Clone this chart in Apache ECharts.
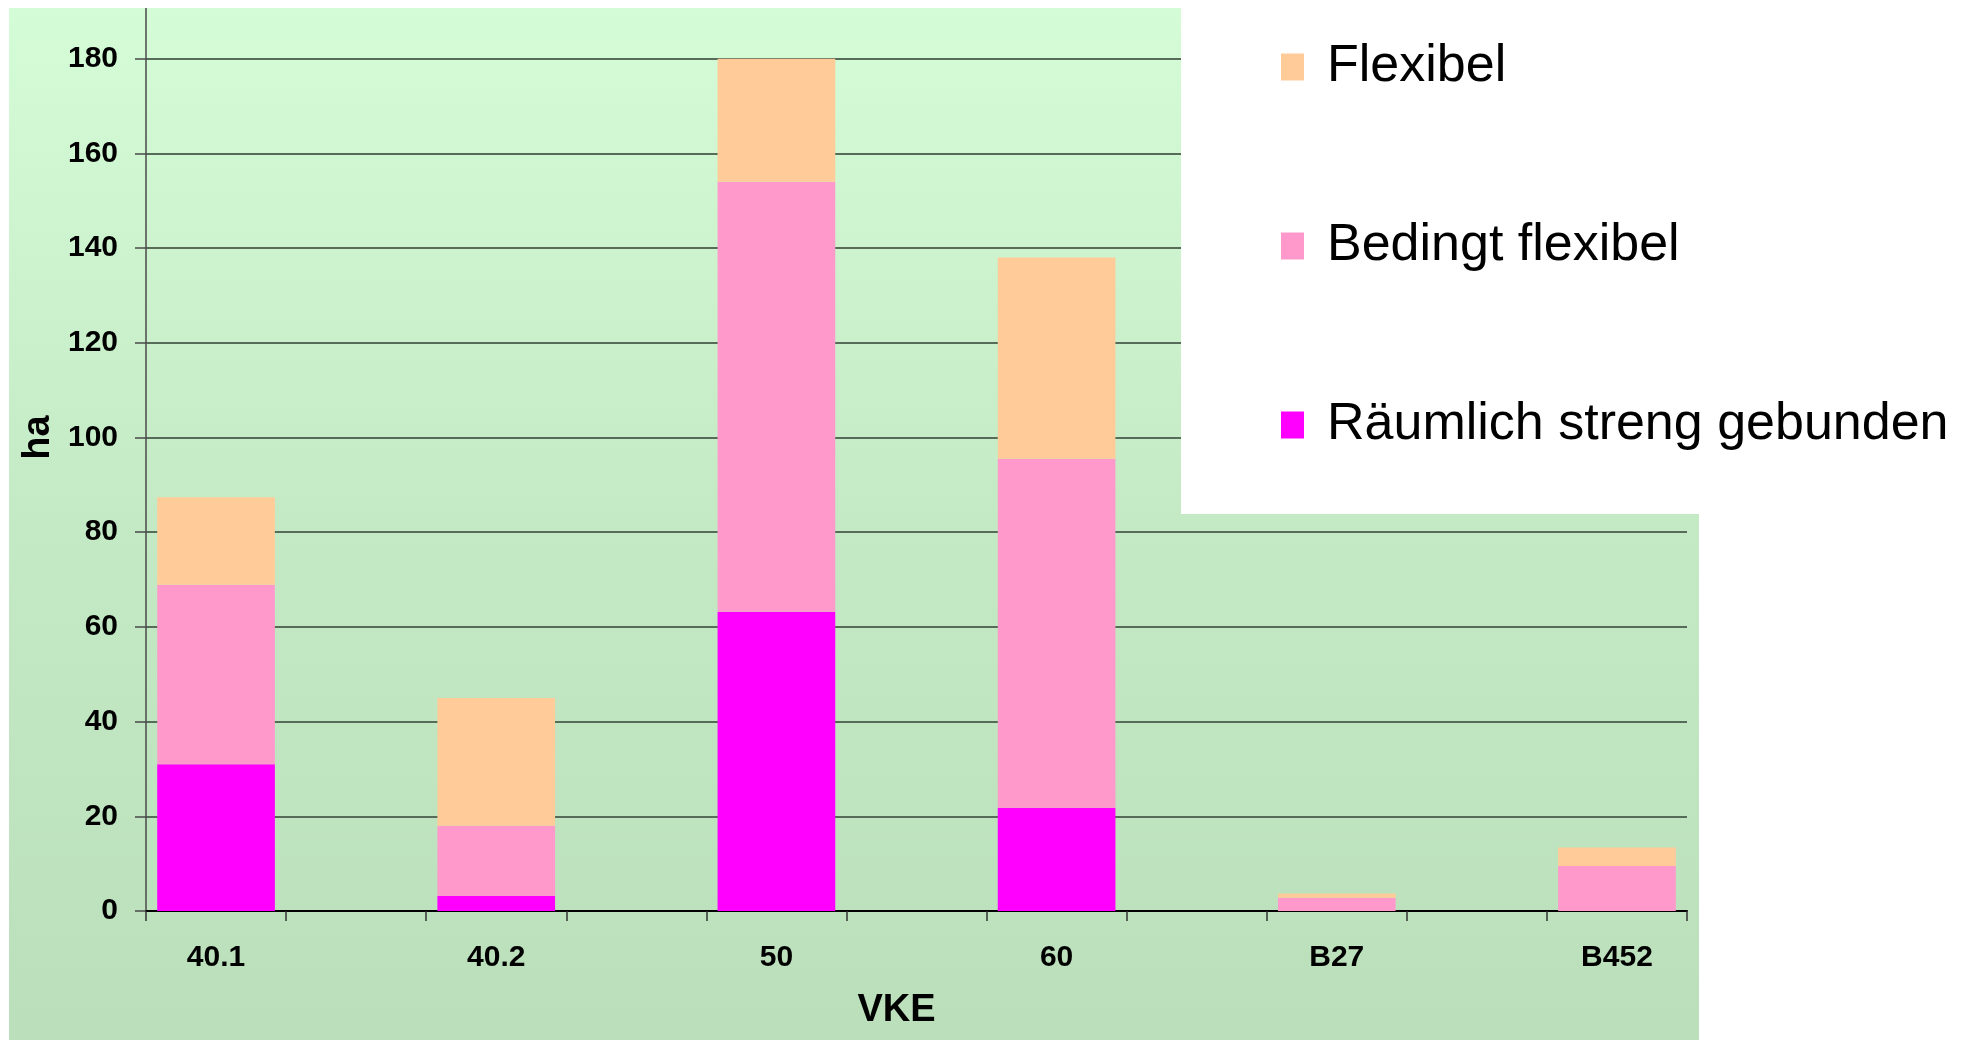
<!DOCTYPE html>
<html>
<head>
<meta charset="utf-8">
<title>Flächen je VKE</title>
<script src="https://cdn.jsdelivr.net/npm/echarts@6/dist/echarts.min.js"></script>
<style>
  html, body { margin: 0; padding: 0; background: #ffffff; }
  #chart { width: 1982px; height: 1040px; }
</style>
</head>
<body>
<div id="chart"></div>
<script>
// VKE categories and areas in ha, stacked bottom to top
const categories = ['40.1', '40.2', '50', '60', 'B27', 'B452'];
const raeumlichStreng = [31.0, 3.2, 63.2, 21.8, 0, 0];
const bedingtFlexibel = [37.9, 14.8, 90.8, 73.7, 2.8, 9.5];
const flexibel = [18.5, 27.0, 26.0, 42.5, 0.9, 3.9];

const seriesNames = ['Räumlich streng gebunden', 'Bedingt flexibel', 'Flexibel'];
const seriesColors = ['#FF00FF', '#FF99CC', '#FFCC99'];
const legendOrder = ['Flexibel', 'Bedingt flexibel', 'Räumlich streng gebunden'];

const yMin = 0, yMax = 200, yStep = 20;

// The category axis has an empty slot between each VKE (ticks every half step)
const axisSlots = [];
categories.forEach((c, i) => {
  axisSlots.push(c);
  if (i < categories.length - 1) axisSlots.push('_gap' + i);
});
function spread(values) {
  const out = [];
  values.forEach((v, i) => {
    out.push(v);
    if (i < values.length - 1) out.push('-');
  });
  return out;
}

const FONT = '"Liberation Sans", Arial, sans-serif';
const seriesData = [raeumlichStreng, bedingtFlexibel, flexibel];

const chart = echarts.init(document.getElementById('chart'), null, { renderer: 'canvas' });

chart.setOption({
  animation: false,
  backgroundColor: '#ffffff',
  textStyle: { fontFamily: FONT },
  graphic: [
    {
      type: 'rect', z: -1,
      shape: { x: 9, y: 8, width: 1690, height: 1032 },
      style: {
        fill: new echarts.graphic.LinearGradient(0, 0, 0, 1, [
          { offset: 0, color: '#D4FCD6' },
          { offset: 0.5, color: '#C4EAC5' },
          { offset: 1, color: '#BADFBA' }
        ])
      }
    },
    {
      type: 'rect', z: 1,
      shape: { x: 1181, y: 0, width: 801, height: 514 },
      style: { fill: '#ffffff' }
    },
    {
      type: 'rect', z: 100,
      shape: { x: 0, y: 0, width: 1982, height: 8 },
      style: { fill: '#ffffff' }
    },
    {
      type: 'rect', z: 100,
      shape: { x: 0, y: 0, width: 9, height: 1040 },
      style: { fill: '#ffffff' }
    }
  ],
  legend: {
    orient: 'vertical',
    left: 1281,
    top: 39,
    padding: 0,
    itemWidth: 23,
    itemHeight: 27,
    itemGap: 123,
    icon: 'rect',
    data: legendOrder,
    textStyle: {
      fontFamily: FONT,
      fontSize: 52,
      lineHeight: 56,
      color: '#000000',
      padding: [0, 0, 0, 18]
    }
  },
  grid: {
    left: 146,
    right: 295,
    top: -36,
    bottom: 129,
    containLabel: false,
    outerBoundsMode: 'none'
  },
  xAxis: {
    type: 'category',
    data: axisSlots,
    boundaryGap: true,
    name: 'VKE',
    nameLocation: 'middle',
    nameGap: 81,
    nameTextStyle: {
      fontFamily: FONT, fontSize: 38, fontWeight: 'bold', color: '#000000',
      padding: [0, 40, 0, 0]
    },
    axisLine: { lineStyle: { color: '#000000', width: 2 } },
    axisTick: { show: true, interval: 0, length: 10, lineStyle: { color: '#333333', width: 1.5 } },
    axisLabel: {
      interval: 0,
      margin: 32,
      fontFamily: FONT, fontSize: 30, fontWeight: 'bold', color: '#000000',
      formatter: v => (v.indexOf('_gap') === 0 ? '' : v)
    },
    splitLine: { show: false }
  },
  yAxis: {
    type: 'value',
    min: yMin,
    max: yMax,
    interval: yStep,
    name: 'ha',
    nameLocation: 'middle',
    nameGap: 84,
    nameRotate: 90,
    nameTextStyle: { fontFamily: FONT, fontSize: 38, fontWeight: 'bold', color: '#000000' },
    axisLine: { show: true, lineStyle: { color: '#4a4a4a', width: 1.5 } },
    axisTick: { show: true, length: 11, lineStyle: { color: '#4a4a4a', width: 1.5 } },
    axisLabel: {
      margin: 28,
      fontFamily: FONT, fontSize: 30, fontWeight: 'bold', color: '#000000'
    },
    splitLine: { show: true, lineStyle: { color: '#566b58', width: 2 } }
  },
  series: seriesNames.map((name, k) => ({
    name: name,
    type: 'bar',
    stack: 'ha',
    barCategoryGap: '16%',
    itemStyle: { color: seriesColors[k] },
    emphasis: { disabled: true },
    data: spread(seriesData[k])
  }))
});
</script>
</body>
</html>
